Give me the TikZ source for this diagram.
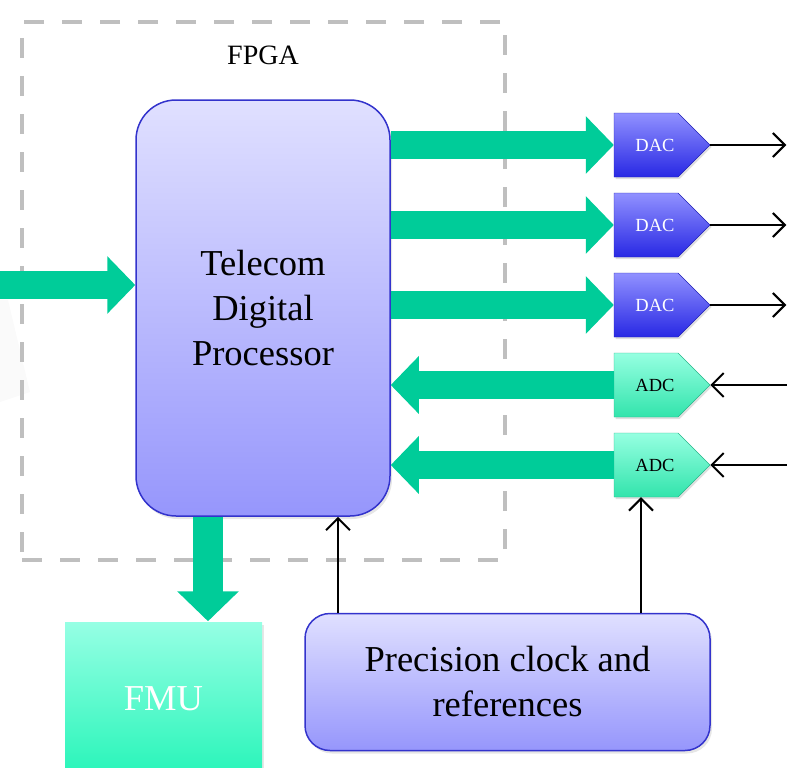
\documentclass[tikz,border=0pt]{standalone}
\usepackage{fontspec}
\setmainfont{Liberation Serif}
\usetikzlibrary{arrows.meta,shapes.symbols,shadows}

\definecolor{fatgreen}{RGB}{0,204,153}
\definecolor{procline}{RGB}{51,51,204}
\definecolor{proctop}{RGB}{224,224,255}
\definecolor{procbot}{RGB}{150,150,252}
\definecolor{dactop}{RGB}{145,145,255}
\definecolor{dacbot}{RGB}{40,40,228}
\definecolor{adctop}{RGB}{150,255,225}
\definecolor{adcbot}{RGB}{50,228,172}
\definecolor{fmutop}{RGB}{150,255,228}
\definecolor{fmubot}{RGB}{40,245,185}
\definecolor{dashgray}{RGB}{191,191,191}

\tikzset{
	proc/.style={draw=procline, line width=1.5pt, top color=proctop, bottom color=procbot,
		inner sep=0pt, align=center, font=\fontsize{36.5}{45}\selectfont,
		drop shadow={shadow xshift=2pt, shadow yshift=-3pt, opacity=0.2}},
	conv/.style={shape=signal, signal to=east, signal pointer angle=90,
		minimum width=96pt, minimum height=64pt, inner sep=0pt,
		font=\fontsize{18.5}{20}\selectfont,
		drop shadow={shadow xshift=1.5pt, shadow yshift=-2pt, opacity=0.25}},
	dac/.style={conv, draw=dacbot!80!black, line width=0.4pt, top color=dactop, bottom color=dacbot, text=white},
	adc/.style={conv, draw=adcbot!80!black, line width=0.4pt, top color=adctop, bottom color=adcbot, text=black},
	fatarrow/.style={fatgreen, line width=28pt, -{Triangle[width=56pt, length=28pt]}},
	thinarrow/.style={line width=2pt, -{Straight Barb[length=12pt, width=24pt, line width=2pt]}},
	fpgabox/.style={draw=dashgray, line width=4pt, dash pattern=on 20pt off 18pt}
}

\begin{document}
\begin{tikzpicture}[x=1pt, y=-1pt]
	%%%%% START %%%%%
	\useasboundingbox (0,0) rectangle (787,768);
	
	% faint remnant at the left edge
	\fill[black!2] (0,300) -- (8,300) -- (30,392) -- (0,402) -- cycle;
	
	% FPGA area
	\node[fpgabox, minimum width=483pt, minimum height=538pt] (fpga) at (263.5,291) {};
	\node[font=\fontsize{28}{32}\selectfont] (fpgalbl) at (263,55) {FPGA};
	
	% processor
	\node[proc, rounded corners=40pt, minimum width=254pt, minimum height=416pt] (tdp) at (263,308) {Telecom\\Digital\\Processor};
	
	% converters
	\node[dac] (dac1) at (646,145) {\hspace*{18pt}DAC};
	\node[dac] (dac2) at (646,225) {\hspace*{18pt}DAC};
	\node[dac] (dac3) at (646,305) {\hspace*{18pt}DAC};
	\node[adc] (adc1) at (646,385) {\hspace*{18pt}ADC};
	\node[adc] (adc2) at (646,465) {\hspace*{18pt}ADC};
	
	% lower boxes
	\node[proc, rounded corners=25pt, minimum width=405pt, minimum height=137pt] (clk) at (507.5,682) {Precision clock and\\references};
	\node[proc, draw=none, top color=fmutop, bottom color=fmubot, text=white,
		minimum width=197pt, minimum height=153pt] (fmu) at (163.5,698.5) {FMU};
	
	% data paths
	\coordinate (feed) at (0,285);
	\draw[fatarrow] (feed) -- (tdp.west |- feed);
	\draw[fatarrow] (tdp.east |- dac1.west) -- (dac1.west);
	\draw[fatarrow] (tdp.east |- dac2.west) -- (dac2.west);
	\draw[fatarrow] (tdp.east |- dac3.west) -- (dac3.west);
	\draw[fatarrow] (adc1.west) -- (tdp.east |- adc1.west);
	\draw[fatarrow] (adc2.west) -- (tdp.east |- adc2.west);
	\draw[fatarrow, line width=30pt, -{Triangle[width=60pt, length=30pt]}] ([xshift=-55pt]tdp.south) -- ([xshift=-55pt]tdp.south |- fmu.north);
	
	% analog lines
	\foreach \c in {dac1,dac2,dac3}
		\draw[thinarrow] (\c.east) -- +(76,0);
	\foreach \c in {adc1,adc2}
		\draw[thinarrow] ([xshift=78pt]\c.east) -- (\c.east);
	
	% clock distribution
	\draw[thinarrow] ([xshift=75pt]tdp.south |- clk.north) -- ([xshift=75pt]tdp.south);
	\draw[thinarrow] ([xshift=-5pt]adc2.south |- clk.north) -- ([xshift=-5pt]adc2.south);
	%%%%% END %%%%%
\end{tikzpicture}
\end{document}
